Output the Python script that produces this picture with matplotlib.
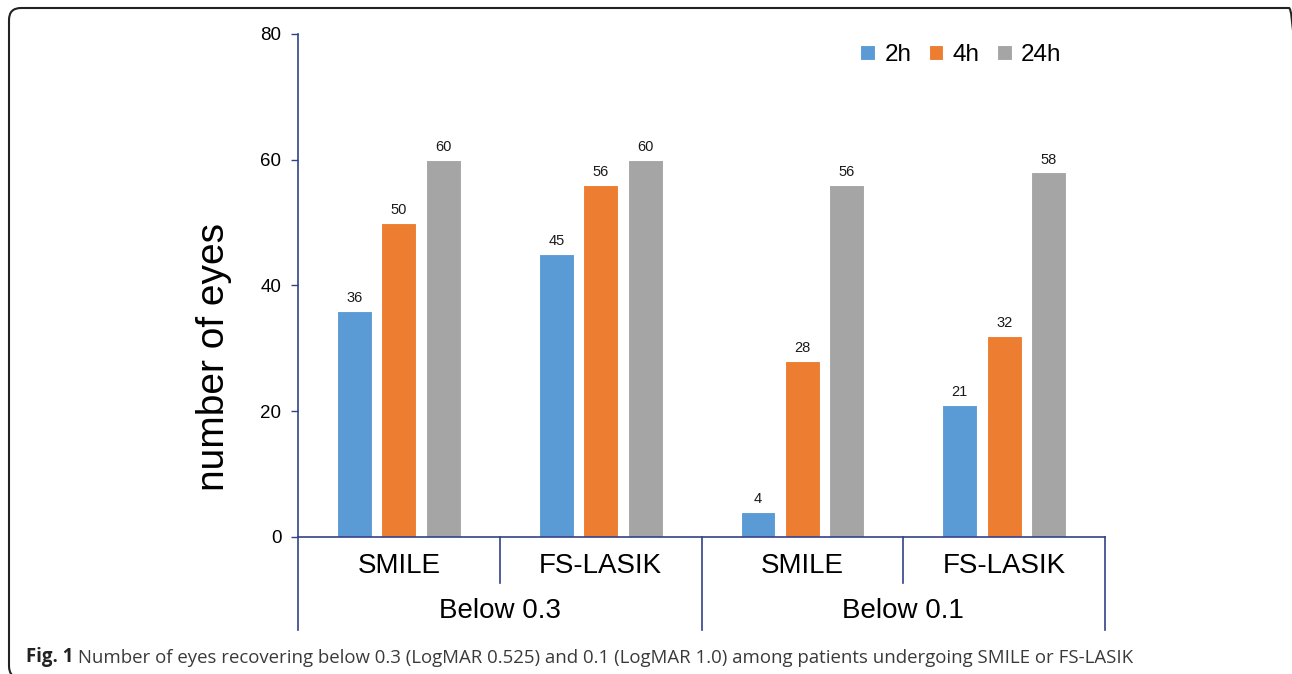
import matplotlib.pyplot as plt
import matplotlib.patches as patches
from matplotlib.transforms import IdentityTransform
import numpy as np

plt.rcParams['font.family'] = ['Liberation Sans', 'DejaVu Sans']

# Eyes recovering below each visual acuity threshold
groups = ['Below 0.3', 'Below 0.1']
procedures = ['SMILE', 'FS-LASIK', 'SMILE', 'FS-LASIK']
series = ['2h', '4h', '24h']
eyes_2h = [36, 45, 4, 21]
eyes_4h = [50, 56, 28, 32]
eyes_24h = [60, 60, 56, 58]
yticks = [0, 20, 40, 60, 80]

colors = ['#5B9BD5', '#ED7D31', '#A5A5A5']
axis_color = '#34428A'
caption_bold = 'Fig. 1'
caption_text = (' Number of eyes recovering below 0.3 (LogMAR 0.525) and 0.1 '
                '(LogMAR 1.0) among patients undergoing SMILE or FS-LASIK')

fig = plt.figure(figsize=(12.92, 6.74), dpi=100)
ax = fig.add_axes([0.2307, 0.2033, 0.6246, 0.7463])

x = np.arange(len(procedures))
width = 0.173
step = 0.22
for k, (name, vals) in enumerate(zip(series, [eyes_2h, eyes_4h, eyes_24h])):
    pos = x + (k - 1) * step
    bars = ax.bar(pos, vals, width, color=colors[k], edgecolor='white',
                  linewidth=0.8, label=name, zorder=2)
    for b, v in zip(bars, vals):
        ax.annotate(str(v), (b.get_x() + b.get_width() / 2, v),
                    xytext=(0, 4), textcoords='offset points',
                    ha='center', va='bottom', fontsize=10.5, color='#1a1a1a')

ax.set_xlim(-0.5, len(procedures) - 0.5)
ax.set_ylim(0, 80)
ax.set_yticks(yticks)
ax.tick_params(axis='y', direction='out', length=5, width=1,
               color=axis_color, labelsize=13.5, pad=7)
ax.set_xticks([])

for side in ['top', 'right']:
    ax.spines[side].set_visible(False)
for side in ['left', 'bottom']:
    ax.spines[side].set_color(axis_color)
    ax.spines[side].set_linewidth(1.2)
ax.spines['bottom'].set_zorder(3)

# Two-level category axis below the plot
trans = ax.get_xaxis_transform()
for i, xs in enumerate(np.arange(-0.5, len(procedures), 1.0)):
    y_end = -0.1849 if i % 2 == 0 else -0.0915
    ax.plot([xs, xs], [0, y_end], color=axis_color, lw=1.2,
            transform=trans, clip_on=False)
for xi, name in zip(x, procedures):
    ax.text(xi, -0.0577, name, transform=trans, ha='center', va='center',
            fontsize=20)
for gi, name in enumerate(groups):
    ax.text(2 * gi + 0.5, -0.147, name, transform=trans, ha='center',
            va='center', fontsize=20)

fig.text(214 / 1292, 1 - 357 / 674, 'number of eyes', rotation=90,
         ha='center', va='center', fontsize=28)

ax.legend(loc='center', bbox_to_anchor=(961 / 1292, 1 - 55 / 674),
          bbox_transform=fig.transFigure, ncol=3, frameon=False,
          fontsize=17.5, handlelength=0.6, handleheight=0.6,
          handletextpad=0.4, columnspacing=0.7)

# Rounded frame around the figure (bottom and right edges run off the page)
frame = patches.FancyBboxPatch((9, -4), 1292, 670,
                               boxstyle='round,pad=0,rounding_size=12',
                               transform=IdentityTransform(), fill=False,
                               edgecolor='#222222', linewidth=1.5)
fig.patches.append(frame)

t1 = fig.text(26 / 1292, 1 - 657 / 674, caption_bold, fontweight='bold',
              ha='left', va='center', fontsize=13.4, color='#222222',
              family='Open Sans')
ax.annotate(caption_text, xy=(1, 0), xycoords=t1, va='bottom', ha='left',
            fontsize=13.4, color='#3a3a3a', family='Open Sans',
            annotation_clip=False)

fig.savefig('out.png', dpi=100)
